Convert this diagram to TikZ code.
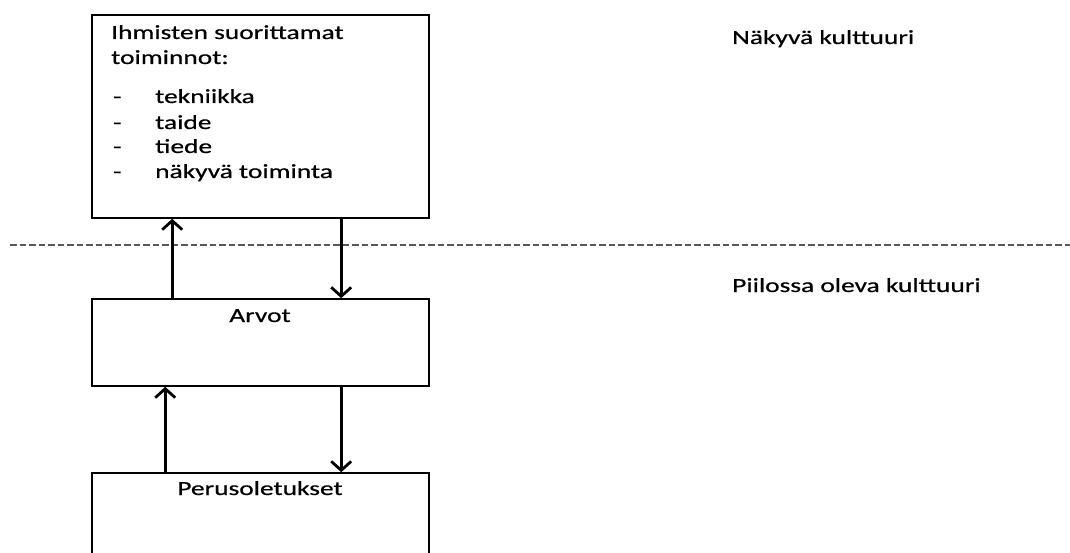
\documentclass[tikz,border=0pt]{standalone}
\usepackage{fontspec}
\setmainfont[FakeStretch=1.37,FakeBold=0.6]{Carlito}
\usetikzlibrary{arrows.meta}
\begin{document}
\begin{tikzpicture}[x=1pt,y=-1pt,
  box/.style={draw=black,line width=1.6pt,minimum width=337pt,inner sep=0pt},
  txt/.style={anchor=base west,inner sep=0pt,font=\fontsize{20}{24}\selectfont},
  ctxt/.style={anchor=base,inner sep=0pt,font=\fontsize{20}{24}\selectfont},
  arr/.style={line width=3.2pt,-{Straight Barb[length=9pt,width=20pt,line width=2.8pt]}},
  divider/.style={draw=black!65,line width=1.2pt,dash pattern=on 6.5pt off 3pt}]
\useasboundingbox (0,0) rectangle (1070,553);
\clip (0,0) rectangle (1070,553);
% boxes
\node[box,minimum height=203pt] (b1) at (260.5,116.5) {};
\node[box,minimum height=87pt] (b2) at (260.5,342.5) {};
\node[box,minimum height=110pt] (b3) at (260.5,528) {};
% texts in box 1
\node[txt] (t1) at (111,39) {Ihmisten suorittamat};
\node[txt] (t2) at (111,64) {toiminnot:};
\node[txt] (d1) at (113,103) {-};
\node[txt] (i1) at (155,103) {tekniikka};
\node[txt] (d2) at (113,129) {-};
\node[txt] (i2) at (155,129) {taide};
\node[txt] (d3) at (113,153) {-};
\node[txt] (i3) at (155,153) {tiede};
\node[txt] (d4) at (113,178) {-};
\node[txt] (i4) at (155,178) {näkyvä toiminta};
% box labels
\node[ctxt] (l2) at (260,322) {Arvot};
\node[ctxt] (l3) at (260,495) {Perusoletukset};
% side labels
\node[txt] (s1) at (732,44) {Näkyvä kulttuuri};
\node[txt] (s2) at (732,292) {Piilossa oleva kulttuuri};
% divider
\coordinate (dl) at (10,245);
\coordinate (dr) at (1070,245);
\draw[divider] (dl) -- (dr);
% arrows
\draw[arr] ([xshift=81pt]b2.north west) -- ([xshift=81pt]b1.south west);
\draw[arr] ([xshift=250pt]b1.south west) -- ([xshift=250pt]b2.north west);
\draw[arr] ([xshift=74pt]b3.north west) -- ([xshift=74pt]b2.south west);
\draw[arr] ([xshift=250pt]b2.south west) -- ([xshift=250pt]b3.north west);
\end{tikzpicture}
\end{document}
